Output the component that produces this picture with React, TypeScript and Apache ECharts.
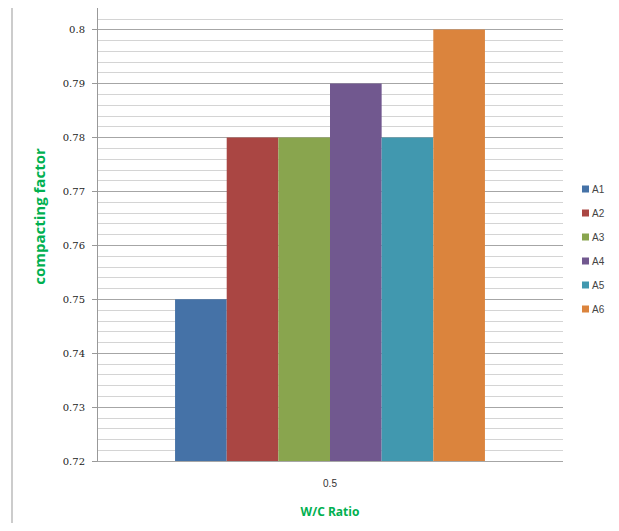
import React, { useEffect, useRef } from "react";
import * as echarts from "echarts";

const categories = ["0.5"];
const seriesNames = ["A1", "A2", "A3", "A4", "A5", "A6"];
const seriesValues = [[0.75], [0.78], [0.78], [0.79], [0.78], [0.8]];
const colors = ["#4572A7", "#AA4643", "#89A54E", "#71588F", "#4198AF", "#DB843D"];
const yTicks = [0.72, 0.73, 0.74, 0.75, 0.76, 0.77, 0.78, 0.79, 0.8];

export default function App() {
  const ref = useRef<HTMLDivElement>(null);
  useEffect(() => {
    if (!ref.current) return;
    const chart = echarts.init(ref.current, null, { renderer: "svg" });
    chart.setOption({
      animation: false,
      backgroundColor: "#ffffff",
      textStyle: { fontFamily: "Liberation Sans" },
      grid: { left: 97, top: 8, right: 56, bottom: 70 },
      legend: {
        orient: "vertical",
        left: 577,
        top: 179,
        itemWidth: 7,
        itemHeight: 7,
        itemGap: 14,
        icon: "rect",
        textStyle: { fontSize: 10, color: "#444", fontFamily: "Liberation Sans", padding: [0, 0, 0, -2] },
        data: seriesNames,
      },
      xAxis: {
        type: "category",
        data: categories,
        axisLine: { show: false },
        axisTick: { show: false },
        axisLabel: { fontSize: 10, color: "#333", margin: 17, fontFamily: "Liberation Sans" },
        name: "W/C Ratio",
        nameLocation: "middle",
        nameGap: 44,
        nameTextStyle: { color: "#00B050", fontWeight: "bold", fontSize: 12, fontFamily: "Open Sans" },
      },
      yAxis: {
        type: "value",
        min: 0.72,
        max: 0.804,
        interval: 0.01,
        axisLine: { show: true, lineStyle: { color: "#999", width: 1 } },
        axisTick: { show: true, length: 5, lineStyle: { color: "#999" }, customValues: yTicks },
        axisLabel: {
          fontSize: 10,
          color: "#222",
          margin: 12,
          fontFamily: "DejaVu Serif",
          customValues: yTicks,
          formatter: (v: number) => String(Math.round(v * 100) / 100),
        },
        splitLine: { show: true, lineStyle: { color: "#a6a6a6", width: 1 } },
        minorTick: { show: false, splitNumber: 5 },
        minorSplitLine: { show: true, lineStyle: { color: "#d4d4d4", width: 1 } },
        name: "compacting factor",
        nameLocation: "middle",
        nameGap: 51,
        nameTextStyle: {
          color: "#00B050",
          fontWeight: "bold",
          fontSize: 15,
          fontFamily: "Open Sans",
          padding: [0, 0, 0, 36],
        },
      },
      graphic: [
        { type: "line", shape: { x1: 12, y1: 6, x2: 12, y2: 531 }, style: { stroke: "#999", lineWidth: 1 } },
      ],
      series: seriesNames.map((n, i) => ({
        name: n,
        type: "bar",
        data: seriesValues[i],
        itemStyle: { color: colors[i] },
        barGap: "0%",
        barCategoryGap: "33.5%",
      })),
    });
    return () => chart.dispose();
  }, []);
  return <div ref={ref} style={{ width: 619, height: 531, margin: -8 }} />;
}
